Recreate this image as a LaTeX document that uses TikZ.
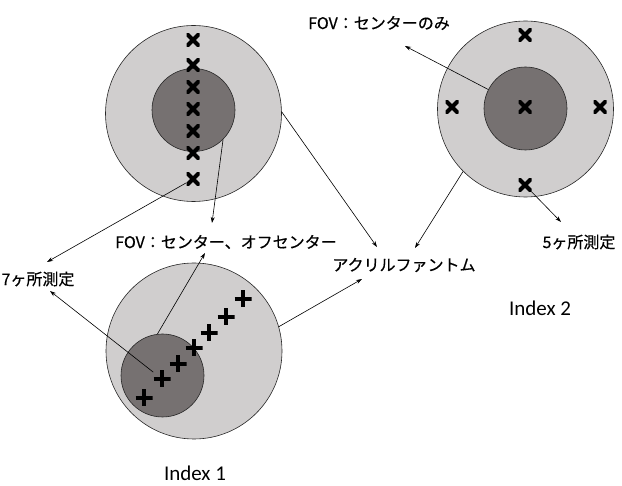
\documentclass[tikz,border=0pt]{standalone}
\usepackage{fontspec}
\setmainfont{Carlito}
\newfontfamily\jpfont[FakeBold=0.5]{Noto Sans CJK JP}
\usetikzlibrary{arrows.meta}
\definecolor{phantom}{RGB}{208,206,206}
\definecolor{fovgray}{RGB}{118,113,113}

\begin{document}
\begin{tikzpicture}[x=1pt,y=-1pt,
  >={Stealth[length=6pt,width=4pt]},
  outer/.style={circle,draw=black!85,line width=0.6pt,fill=phantom,minimum size=176pt,inner sep=0pt},
  core/.style={circle,draw=black!85,line width=0.6pt,fill=fovgray,minimum size=83pt,inner sep=0pt},
  xmk/.style={minimum size=13pt,inner sep=0pt,path picture={
      \draw[line width=4pt] (path picture bounding box.north west) -- (path picture bounding box.south east)
                            (path picture bounding box.north east) -- (path picture bounding box.south west);}},
  pmk/.style={minimum size=17pt,inner sep=0pt,path picture={
      \draw[line width=4pt] (path picture bounding box.north) -- (path picture bounding box.south)
                            (path picture bounding box.west) -- (path picture bounding box.east);}},
  lbl/.style={font=\jpfont\fontsize{16}{19}\selectfont,inner sep=1pt},
  idx/.style={font=\fontsize{21}{25}\selectfont,inner sep=1pt},
  ptr/.style={->,line width=0.6pt},
]
\useasboundingbox (0,0) rectangle (622,486);

% phantoms and fields of view
\node[outer] (ph1) at (193.5,113.5) {};
\node[core]  (fv1) at (193.5,110) {};
\node[outer] (ph2) at (525.5,109) {};
\node[core]  (fv2) at (525.5,108.5) {};
\node[outer] (ph3) at (194,351) {};
\node[core]  (fv3) at (162.5,375.5) {};

% measurement points
\foreach \y [count=\i] in {40,65,87,109,131,153,179} \node[xmk] (a\i) at (193,\y) {};
\foreach \x/\y [count=\i] in {525/35,452/107,525/107,600/107,525/185} \node[xmk] (b\i) at (\x,\y) {};
\foreach \x/\y [count=\i] in {144/398,162/379,178/364,194/348,209/333,226/317,243/299} \node[pmk] (c\i) at (\x,\y) {};

% labels
\node[lbl] (fovA) at (379,23)  {FOV：センターのみ};
\node[lbl] (fovB) at (226,242) {FOV：センター、オフセンター};
\node[lbl] (acr)  at (404,265) {アクリルファントム};
\node[lbl] (m7)   at (38,279)  {7ヶ所測定};
\node[lbl] (m5)   at (579,242) {5ヶ所測定};
\node[idx] (idx1) at (195,473) {Index 1};
\node[idx] (idx2) at (540,308) {Index 2};

% pointers
\draw[ptr] (fv1.-45) -- ([shift={(-14,-19)}]fovB.center);
\draw[ptr] (ph1.1)   -- ([shift={(-27,-18)}]acr.center);
\draw[ptr] (a7)      -- ([shift={(9,-17)}]m7.center);
\draw[ptr] (c2)      -- ([shift={(12,12)}]m7.center);
\draw[ptr] (fv3.97)  -- ([shift={(-21,11)}]fovB.center);
\draw[ptr] (ph3.16)  -- ([shift={(-42,14)}]acr.center);
\draw[ptr] (fv2.153) -- ([shift={(26,23)}]fovA.center);
\draw[ptr] (ph2.225) -- ([shift={(11,-17)}]acr.center);
\draw[ptr] (b5)      -- ([shift={(-18,-20)}]m5.center);
\end{tikzpicture}
\end{document}
